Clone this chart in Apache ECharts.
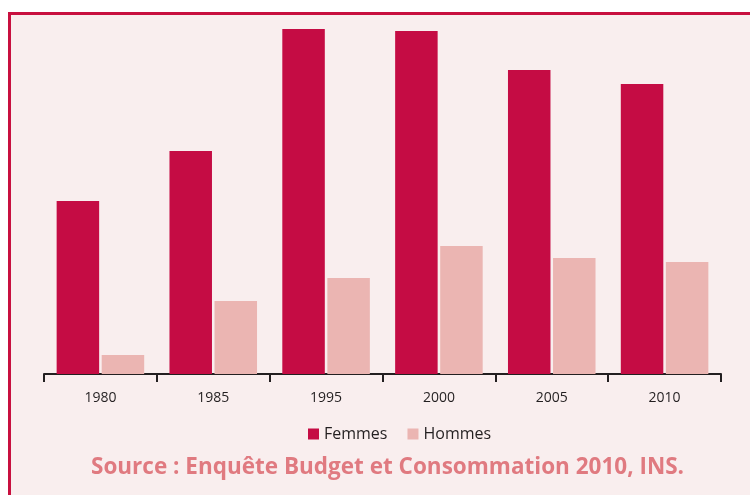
<!DOCTYPE html>
<html lang="fr" style="height: 100%">
<head>
    <meta charset="utf-8">
</head>
<body style="height: 100%; margin: 0; background: #ffffff">
<div id="container" style="position: absolute; left: 8px; top: 12px; width: 742px; height: 483px; background: #f9eeee; border-left: 3px solid #c8103f; border-top: 3px solid #c8103f; box-sizing: border-box"></div>

<script type="text/javascript" src="https://fastly.jsdelivr.net/npm/echarts@6.0.0/dist/echarts.min.js"></script>

<script type="text/javascript">
    // valeurs (échelle arbitraire, hauteur des barres)
    var years = ['1980', '1985', '1995', '2000', '2005', '2010'];
    var femmes = [173, 223, 345, 343, 304, 290];
    var hommes = [19, 73, 96, 128, 116, 112];

    var dom = document.getElementById('container');
    var myChart = echarts.init(dom, null, {
        renderer: 'canvas',
        useDirtyRect: false
    });

    var option = {
        animation: false,
        backgroundColor: 'transparent',
        grid: {
            left: 33,
            right: 29,
            top: 13,
            bottom: 121
        },
        legend: {
            data: ['Femmes', 'Hommes'],
            left: 292,
            top: 406,
            itemWidth: 11,
            itemHeight: 11,
            itemGap: 20,
            icon: 'rect',
            textStyle: {
                fontFamily: 'Open Sans',
                fontSize: 16,
                color: '#231f20'
            }
        },
        title: {
            text: 'Source : Enquête Budget et Consommation 2010, INS.',
            left: 75,
            top: 436,
            textStyle: {
                fontFamily: 'Open Sans',
                fontWeight: 'bold',
                fontSize: 22.5,
                color: '#e07a80'
            }
        },
        xAxis: {
            type: 'category',
            data: years,
            axisLine: {
                lineStyle: { color: '#231f20', width: 2 }
            },
            axisTick: {
                show: true,
                interval: 0,
                length: 8,
                lineStyle: { color: '#231f20', width: 2 }
            },
            axisLabel: {
                fontFamily: 'Open Sans',
                fontSize: 14,
                color: '#231f20',
                margin: 17
            }
        },
        yAxis: {
            type: 'value',
            min: 0,
            max: 346,
            show: false,
            splitLine: { show: false }
        },
        series: [
            {
                name: 'Femmes',
                type: 'bar',
                data: femmes,
                barWidth: 42.5,
                barGap: '6%',
                itemStyle: { color: '#c50c44' }
            },
            {
                name: 'Hommes',
                type: 'bar',
                data: hommes,
                barWidth: 42.5,
                itemStyle: { color: '#ebb5b2' }
            }
        ]
    };

    myChart.setOption(option);
    window.addEventListener('resize', myChart.resize);
</script>
</body>
</html>
